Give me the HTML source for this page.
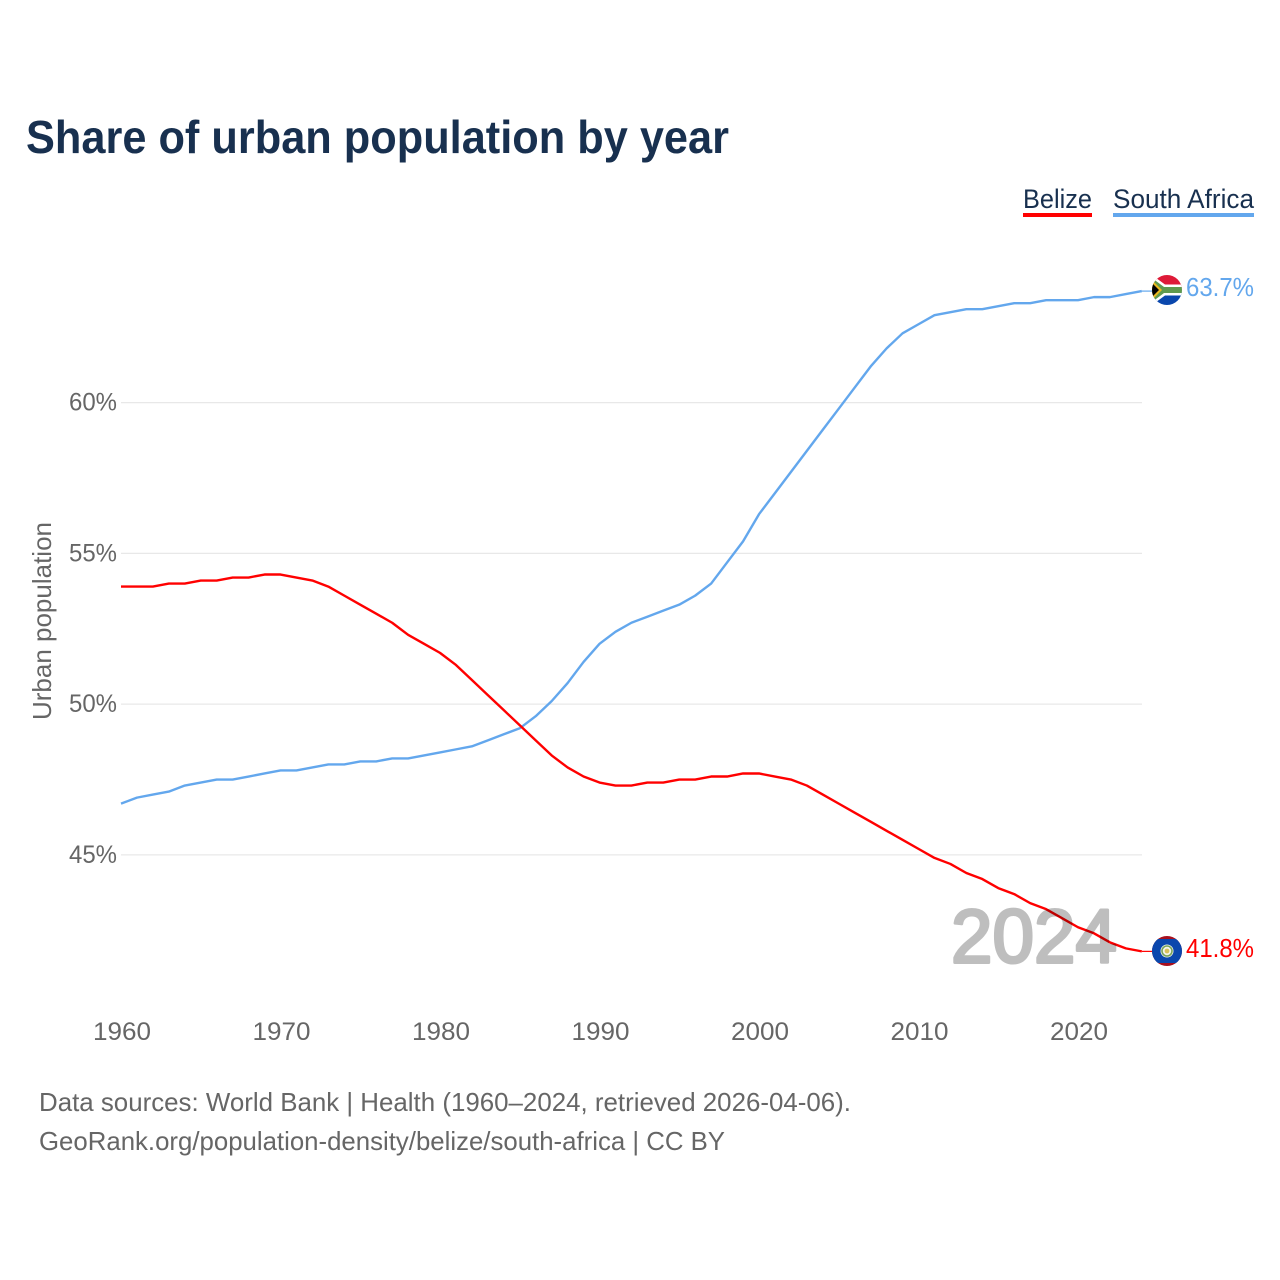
<!DOCTYPE html>
<html lang="en">
<head>
<meta charset="utf-8">
<title>Share of urban population by year</title>
<style>
html,body{margin:0;padding:0;background:#fff;}
svg{display:block;}
text{font-family:"Liberation Sans",sans-serif;}
</style>
</head>
<body>
<svg id="chart" width="1280" height="1280" viewBox="0 0 1280 1280" xmlns="http://www.w3.org/2000/svg">
  <defs>
    <clipPath id="flag-clip-za"><circle cx="1167" cy="290" r="15"/></clipPath>
    <clipPath id="flag-clip-bz"><circle cx="1167" cy="951" r="15"/></clipPath>
  </defs>
  <rect width="1280" height="1280" fill="#fff"/>
  <text x="26" y="153" font-size="46" font-weight="700" fill="#18304f" textLength="703" lengthAdjust="spacingAndGlyphs">Share of urban population by year</text>

  <g>
    <g>
      <text x="1023" y="208" font-size="27" fill="#18304f" textLength="69" lengthAdjust="spacingAndGlyphs">Belize</text>
      <rect x="1023" y="213" width="69" height="4" fill="#ff0000"/>
    </g>
    <g>
      <text x="1113" y="208" font-size="27" fill="#18304f" textLength="141" lengthAdjust="spacingAndGlyphs">South Africa</text>
      <rect x="1113" y="213" width="141" height="4" fill="#63a7ed"/>
    </g>
  </g>

  <g id="grid"></g>
  <g id="yticks"></g>
  <g id="xticks"></g>
  <text transform="translate(51,720) rotate(-90)" font-size="26" fill="#666" textLength="198" lengthAdjust="spacingAndGlyphs">Urban population</text>

  <g id="series"></g>

  <text x="951" y="962.5" font-size="76" font-weight="400" fill="#000" stroke="#000" stroke-width="3" stroke-linejoin="round" opacity="0.25" textLength="166" lengthAdjust="spacingAndGlyphs">2024</text>

  <g clip-path="url(#flag-clip-za)">
    <rect x="1152" y="275" width="30" height="15" fill="#de1a38"/>
    <rect x="1152" y="290" width="30" height="15" fill="#0a47ad"/>
    <path d="M1152 275 L1165 284.5 H1182 V295.5 H1165 L1152 305 Z" fill="#fff"/>
    <path d="M1152 278 L1164 287 H1182 V293 H1164 L1152 302 Z" fill="#5f9a4e"/>
    <path d="M1152 280 L1162 290 L1152 300 Z" fill="#e9b820"/>
    <path d="M1152 283 L1159 290 L1152 297 Z" fill="#000"/>
  </g>
  <g clip-path="url(#flag-clip-bz)">
    <rect x="1152" y="936" width="30" height="30" fill="#a8101f"/>
    <rect x="1152" y="939" width="30" height="24" fill="#0a47ad"/>
    <circle cx="1167" cy="951" r="6.5" fill="#f2f5ea"/>
    <circle cx="1167" cy="951" r="5" fill="none" stroke="#79a35a" stroke-width="1.6"/>
    <circle cx="1167" cy="951" r="2.4" fill="#d9c25a"/>
  </g>

  <text x="1186" y="296" font-size="26" fill="#63a7ed" textLength="68" lengthAdjust="spacingAndGlyphs">63.7%</text>
  <text x="1186" y="957" font-size="26" fill="#ff0000" textLength="68" lengthAdjust="spacingAndGlyphs">41.8%</text>

  <g>
    <text x="39" y="1111" font-size="26" fill="#666" textLength="812" lengthAdjust="spacingAndGlyphs">Data sources: World Bank | Health (1960–2024, retrieved 2026-04-06).</text>
    <text x="39" y="1150" font-size="26" fill="#666" textLength="686" lengthAdjust="spacingAndGlyphs">GeoRank.org/population-density/belize/south-africa | CC BY</text>
  </g>
</svg>
<script>
const startYear = 1960;
const belize = [53.9,53.9,53.9,54.0,54.0,54.1,54.1,54.2,54.2,54.3,54.3,54.2,54.1,53.9,53.6,53.3,53.0,52.7,52.3,52.0,51.7,51.3,50.8,50.3,49.8,49.3,48.8,48.3,47.9,47.6,47.4,47.3,47.3,47.4,47.4,47.5,47.5,47.6,47.6,47.7,47.7,47.6,47.5,47.3,47.0,46.7,46.4,46.1,45.8,45.5,45.2,44.9,44.7,44.4,44.2,43.9,43.7,43.4,43.2,42.9,42.6,42.4,42.1,41.9,41.8];
const southAfrica = [46.7,46.9,47.0,47.1,47.3,47.4,47.5,47.5,47.6,47.7,47.8,47.8,47.9,48.0,48.0,48.1,48.1,48.2,48.2,48.3,48.4,48.5,48.6,48.8,49.0,49.2,49.6,50.1,50.7,51.4,52.0,52.4,52.7,52.9,53.1,53.3,53.6,54.0,54.7,55.4,56.3,57.0,57.7,58.4,59.1,59.8,60.5,61.2,61.8,62.3,62.6,62.9,63.0,63.1,63.1,63.2,63.3,63.3,63.4,63.4,63.4,63.5,63.5,63.6,63.7];
const yTickValues = [45,50,55,60];
const xTickValues = [1960,1970,1980,1990,2000,2010,2020];

const NS = 'http://www.w3.org/2000/svg';
function xScale(year){ return 121 + (year - 1960) * 15.95; }
function yScale(v){ return 854.9 - (v - 45) * 30.15; }
function make(tag, parent, attrs){
  const el = document.createElementNS(NS, tag);
  for (const k in attrs) el.setAttribute(k, attrs[k]);
  parent.appendChild(el);
  return el;
}

const grid = document.getElementById('grid');
const yticks = document.getElementById('yticks');
yTickValues.forEach(function(v){
  const line = make('line', grid, {x1:121, x2:1142, y1:yScale(v), y2:yScale(v), stroke:'#e8e8e8', 'stroke-width':1.2});
  
  
  const t = make('text', yticks, {x:117, y:yScale(v)+8, 'font-size':25, fill:'#666', 'text-anchor':'end', textLength:48, lengthAdjust:'spacingAndGlyphs'});
  t.textContent = v + '%';
  
  
});

const xticks = document.getElementById('xticks');
xTickValues.forEach(function(y){
  const t = make('text', xticks, {x:xScale(y)-28, y:1040, 'font-size':25, fill:'#666', textLength:58, lengthAdjust:'spacingAndGlyphs'});
  t.textContent = y;
  
  
});

const seriesGroup = document.getElementById('series');
function drawSeries(values, color, name){
  const pts = values.map(function(v, i){ return xScale(startYear + i).toFixed(2) + ',' + yScale(v).toFixed(2); });
  const path = make('polyline', seriesGroup, {points:pts.join(' '), fill:'none', stroke:color, 'stroke-width':2.4, 'stroke-linejoin':'round'});
  
  
  const lastY = yScale(values[values.length - 1]);
  const lastX = xScale(startYear + values.length - 1);
  const lead = make('line', seriesGroup, {x1:lastX, x2:1153, y1:lastY, y2:lastY, stroke:color, 'stroke-width':1.2});
  
  
}
drawSeries(southAfrica, '#63a7ed', 'line-south-africa');
drawSeries(belize, '#ff0000', 'line-belize');
</script>
</body>
</html>
